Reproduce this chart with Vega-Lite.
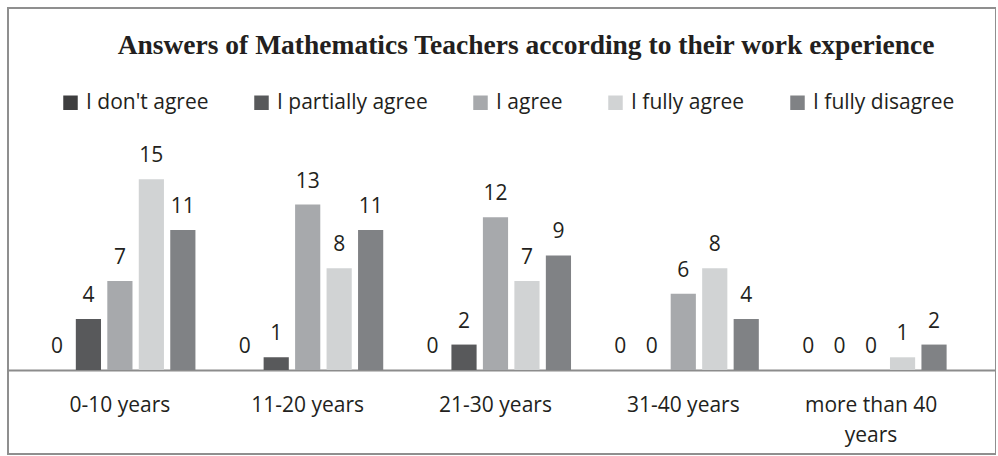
{
  "$schema": "https://vega.github.io/schema/vega-lite/v6.json",
  "width": 988,
  "height": 446,
  "padding": {"left": 8, "top": 8, "right": 0, "bottom": 1},
  "background": "white",
  "config": {
    "view": {"stroke": "#8f8f8f", "strokeWidth": 2},
    "axis": {"grid": false}
  },
  "title": {
    "text": "Answers of Mathematics Teachers according to their work experience",
    "font": "Liberation Serif",
    "fontWeight": "bold",
    "fontSize": 27.5,
    "color": "#231f20",
    "anchor": "middle",
    "orient": "top",
    "offset": -73,
    "baseline": "alphabetic",
    "dx": 24
  },
  "data": {
    "values": [
      {"experience": "0-10 years", "answer": "I don't agree", "count": 0},
      {"experience": "0-10 years", "answer": "I partially agree", "count": 4},
      {"experience": "0-10 years", "answer": "I agree", "count": 7},
      {"experience": "0-10 years", "answer": "I fully agree", "count": 15},
      {"experience": "0-10 years", "answer": "I fully disagree", "count": 11},
      {"experience": "11-20 years", "answer": "I don't agree", "count": 0},
      {"experience": "11-20 years", "answer": "I partially agree", "count": 1},
      {"experience": "11-20 years", "answer": "I agree", "count": 13},
      {"experience": "11-20 years", "answer": "I fully agree", "count": 8},
      {"experience": "11-20 years", "answer": "I fully disagree", "count": 11},
      {"experience": "21-30 years", "answer": "I don't agree", "count": 0},
      {"experience": "21-30 years", "answer": "I partially agree", "count": 2},
      {"experience": "21-30 years", "answer": "I agree", "count": 12},
      {"experience": "21-30 years", "answer": "I fully agree", "count": 7},
      {"experience": "21-30 years", "answer": "I fully disagree", "count": 9},
      {"experience": "31-40 years", "answer": "I don't agree", "count": 0},
      {"experience": "31-40 years", "answer": "I partially agree", "count": 0},
      {"experience": "31-40 years", "answer": "I agree", "count": 6},
      {"experience": "31-40 years", "answer": "I fully agree", "count": 8},
      {"experience": "31-40 years", "answer": "I fully disagree", "count": 4},
      {"experience": "more than 40 years", "answer": "I don't agree", "count": 0},
      {"experience": "more than 40 years", "answer": "I partially agree", "count": 0},
      {"experience": "more than 40 years", "answer": "I agree", "count": 0},
      {"experience": "more than 40 years", "answer": "I fully agree", "count": 1},
      {"experience": "more than 40 years", "answer": "I fully disagree", "count": 2}
    ]
  },
  "encoding": {
    "x": {
      "field": "experience",
      "type": "nominal",
      "sort": ["0-10 years", "11-20 years", "21-30 years", "31-40 years", "more than 40 years"],
      "scale": {"paddingInner": 0.162, "paddingOuter": 0.2115, "align": 0.418},
      "axis": {
        "title": null,
        "orient": "bottom",
        "offset": -84,
        "labelAngle": 0,
        "ticks": false,
        "domainColor": "#8c8c8c",
        "domainWidth": 2,
        "labelFont": "Open Sans",
        "labelFontSize": 21,
        "labelColor": "#231f20",
        "labelPadding": 24,
        "labelLineHeight": 30,
        "labelLimit": 300,
        "labelExpr": "datum.label == 'more than 40 years' ? ['more than 40', 'years'] : datum.label"
      }
    },
    "xOffset": {
      "field": "answer",
      "type": "nominal",
      "sort": ["I don't agree", "I partially agree", "I agree", "I fully agree", "I fully disagree"],
      "scale": {"paddingInner": 0.2, "paddingOuter": 0.1}
    },
    "y": {
      "field": "count",
      "type": "quantitative",
      "scale": {"domain": [-6.6, 28.45], "nice": false},
      "axis": null
    }
  },
  "layer": [
    {
      "mark": {"type": "bar"},
      "encoding": {
        "y2": {"datum": 0},
        "color": {
          "field": "answer",
          "type": "nominal",
          "scale": {
            "domain": ["I don't agree", "I partially agree", "I agree", "I fully agree", "I fully disagree"],
            "range": ["#3e3e3f", "#58595b", "#a7a9ac", "#d1d3d4", "#808285"]
          },
          "legend": {
            "title": null,
            "orient": "none",
            "legendX": 52,
            "legendY": 84,
            "direction": "horizontal",
            "symbolType": "square",
            "symbolSize": 210,
            "symbolStrokeWidth": 0,
            "labelOffset": 5,
            "columnPadding": 42,
            "labelFont": "Open Sans",
            "labelFontSize": 21,
            "labelColor": "#231f20",
            "labelLimit": 300,
            "padding": 0
          }
        }
      }
    },
    {
      "mark": {
        "type": "text",
        "dy": -17,
        "baseline": "alphabetic",
        "align": "center",
        "font": "Open Sans",
        "fontSize": 21,
        "color": "#231f20"
      },
      "encoding": {
        "text": {"field": "count", "type": "quantitative"}
      }
    }
  ]
}
